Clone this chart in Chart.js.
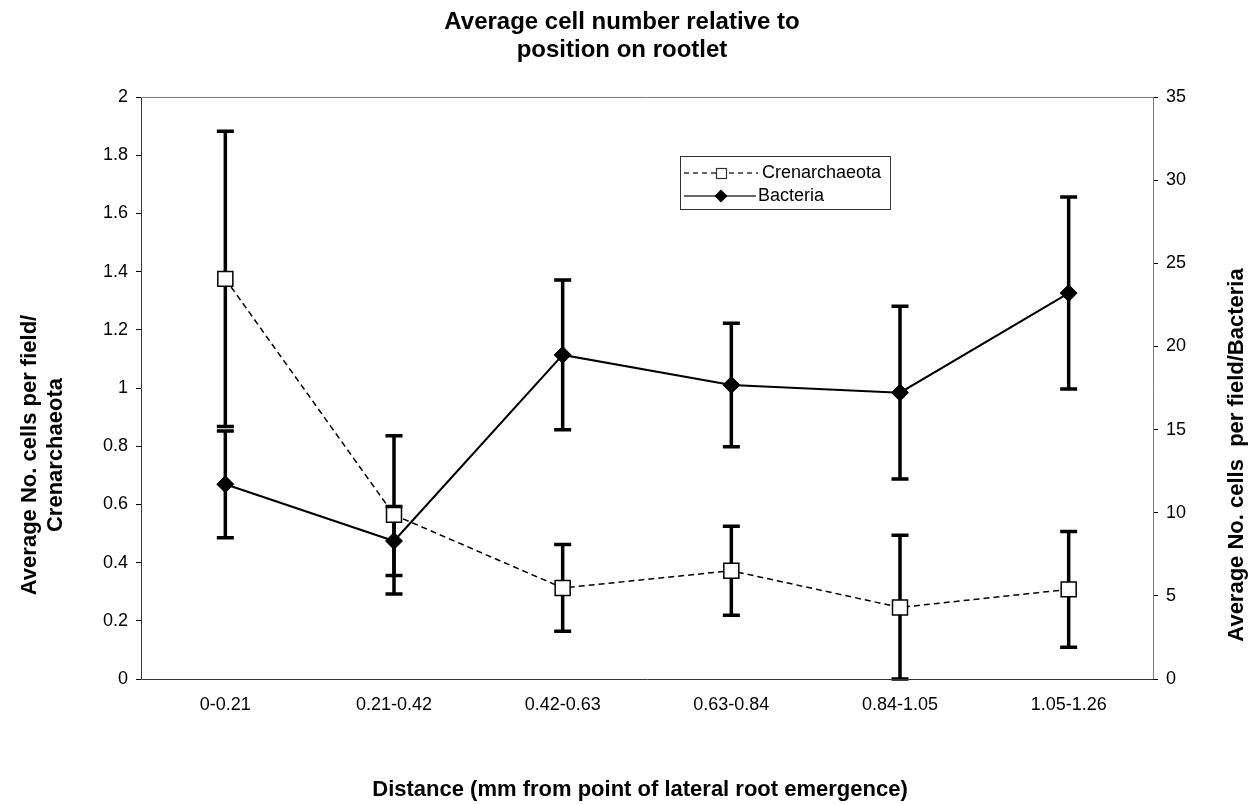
<!DOCTYPE html>
<html><head><meta charset="utf-8">
<script src="https://cdn.jsdelivr.net/npm/chart.js@4.4.0/dist/chart.umd.min.js"></script>
<style>html,body{margin:0;padding:0;background:#fff;overflow:hidden}#wrap{width:1257px;height:804px;position:relative}</style>
</head><body><div id="wrap"><canvas id="c" width="1257" height="804"></canvas></div>
<script>
const categories = ['0-0.21','0.21-0.42','0.42-0.63','0.63-0.84','0.84-1.05','1.05-1.26'];
const crenMean = [1.375, 0.564, 0.313, 0.372, 0.246, 0.308];
const crenErr  = [0.507, 0.272, 0.149, 0.153, 0.248, 0.199];
const bactMean = [11.71, 8.30, 19.49, 17.68, 17.22, 23.21];
const bactErr  = [3.21, 2.08, 4.50, 3.71, 5.20, 5.77];
const leftTicks  = ['0','0.2','0.4','0.6','0.8','1','1.2','1.4','1.6','1.8','2'];
const rightTicks = ['0','5','10','15','20','25','30','35'];
const titleLines = ['Average cell number relative to','position on rootlet'];
const xTitle = 'Distance (mm from point of lateral root emergence)';
const yLeftTitle = ['Average No. cells per field/','Crenarchaeota'];
const yRightTitle = 'Average No. cells  per field/Bacteria';
const seriesNames = ['Crenarchaeota','Bacteria'];

const FONT = '"Liberation Sans", Arial, Helvetica, sans-serif';

const errorBars = {
  id: 'errorBars',
  beforeDatasetsDraw(chart) {
    const ctx = chart.ctx, xs = chart.scales.x;
    const sets = [{m: crenMean, e: crenErr, a: 'y'}, {m: bactMean, e: bactErr, a: 'y1'}];
    ctx.save();
    ctx.strokeStyle = '#000'; ctx.lineWidth = 3.5; ctx.lineCap = 'butt';
    sets.forEach(s => {
      const ys = chart.scales[s.a];
      s.m.forEach((m, i) => {
        const px = xs.getPixelForValue(i);
        const hi = ys.getPixelForValue(m + s.e[i]);
        const lo = ys.getPixelForValue(Math.max(0, m - s.e[i]));
        ctx.beginPath();
        ctx.moveTo(px, hi); ctx.lineTo(px, lo);
        ctx.moveTo(px - 8.5, hi); ctx.lineTo(px + 8.5, hi);
        ctx.moveTo(px - 8.5, lo); ctx.lineTo(px + 8.5, lo);
        ctx.stroke();
      });
    });
    ctx.restore();
  }
};

const decor = {
  id: 'decor',
  beforeDatasetsDraw(chart) {
    const ctx = chart.ctx, a = chart.chartArea;
    const l = Math.round(a.left) + 0.5, t = Math.round(a.top) + 0.5, r = Math.round(a.right) + 0.5, b = Math.round(a.bottom) + 0.5;
    ctx.save();
    ctx.lineWidth = 1;
    ctx.strokeStyle = '#777';
    ctx.beginPath(); ctx.moveTo(l, t); ctx.lineTo(r, t); ctx.lineTo(r, b); ctx.stroke();
    ctx.strokeStyle = '#333';
    ctx.beginPath(); ctx.moveTo(l, t); ctx.lineTo(l, b); ctx.lineTo(r, b); ctx.stroke();
    ctx.restore();
  },
  afterDraw(chart) {
    const ctx = chart.ctx;
    ctx.save();
    ctx.fillStyle = '#000';
    ctx.textAlign = 'center'; ctx.textBaseline = 'middle';
    ctx.font = 'bold 24px ' + FONT;
    ctx.fillText(titleLines[0], 622, 22);
    ctx.fillText(titleLines[1], 622, 50);
    ctx.font = 'bold 22px ' + FONT;
    ctx.fillText(xTitle, 640, 790);
    const cy = 455;
    ctx.save(); ctx.translate(30, cy); ctx.rotate(-Math.PI / 2);
    ctx.fillText(yLeftTitle[0], 0, 0);
    ctx.fillText(yLeftTitle[1], 0, 26);
    ctx.restore();
    ctx.save(); ctx.translate(1237, cy); ctx.rotate(-Math.PI / 2);
    ctx.fillText(yRightTitle, 0, 0);
    ctx.restore();

    // legend
    ctx.strokeStyle = '#333'; ctx.lineWidth = 1;
    ctx.strokeRect(680.5, 156.5, 210, 53);
    ctx.font = '18px ' + FONT; ctx.textAlign = 'left';
    // row 1
    ctx.setLineDash([5, 4]); ctx.lineWidth = 1.4;
    ctx.beginPath(); ctx.moveTo(684, 173); ctx.lineTo(758, 173); ctx.stroke();
    ctx.setLineDash([]);
    ctx.fillStyle = '#fff'; ctx.fillRect(716, 168, 10, 10);
    ctx.lineWidth = 1.2; ctx.strokeRect(716.5, 168.5, 10, 10);
    ctx.fillStyle = '#000';
    ctx.fillText(seriesNames[0], 762, 173);
    // row 2
    ctx.lineWidth = 1.6;
    ctx.beginPath(); ctx.moveTo(684, 196); ctx.lineTo(756, 196); ctx.stroke();
    ctx.beginPath(); ctx.moveTo(721, 189.5); ctx.lineTo(727.5, 196); ctx.lineTo(721, 202.5); ctx.lineTo(714.5, 196); ctx.closePath(); ctx.fill();
    ctx.fillText(seriesNames[1], 758, 196);
    ctx.restore();
  }
};

new Chart(document.getElementById('c'), {
  type: 'line',
  data: {
    labels: categories,
    datasets: [
      {
        label: seriesNames[0], data: crenMean, yAxisID: 'y',
        borderColor: '#000', borderWidth: 1.5, borderDash: [6, 4],
        pointStyle: 'rect', pointRadius: 10.6, pointBackgroundColor: '#fff',
        pointBorderColor: '#000', pointBorderWidth: 1.5, tension: 0, fill: false
      },
      {
        label: seriesNames[1], data: bactMean, yAxisID: 'y1',
        borderColor: '#000', borderWidth: 2,
        pointStyle: 'rectRot', pointRadius: 8.5, pointBackgroundColor: '#000',
        pointBorderColor: '#000', pointBorderWidth: 1, tension: 0, fill: false
      }
    ]
  },
  options: {
    responsive: false, animation: false, devicePixelRatio: 1,
    layout: { padding: { top: 97, left: 0, right: 0, bottom: 0 } },
    plugins: { legend: { display: false }, title: { display: false }, tooltip: { enabled: false } },
    scales: {
      x: {
        type: 'category', offset: true,
        grid: { display: false, drawTicks: false }, border: { display: false },
        ticks: { color: '#000', font: { family: FONT, size: 18 }, padding: 15, maxRotation: 0 },
        afterFit(s) { s.height = 125; }
      },
      y: {
        position: 'left', min: 0, max: 2,
        grid: { display: true, drawOnChartArea: false, drawTicks: true, tickLength: 5, color: '#000' },
        border: { display: false },
        ticks: { stepSize: 0.2, color: '#000', font: { family: FONT, size: 18 }, padding: 8,
          callback: (v, i) => leftTicks[i] },
        afterFit(s) { s.width = 141; }
      },
      y1: {
        position: 'right', min: 0, max: 35,
        grid: { display: true, drawOnChartArea: false, drawTicks: true, tickLength: 5, color: '#000' },
        border: { display: false },
        ticks: { stepSize: 5, color: '#000', font: { family: FONT, size: 18 }, padding: 8,
          callback: (v, i) => rightTicks[i] },
        afterFit(s) { s.width = 104; }
      }
    }
  },
  plugins: [errorBars, decor]
});
</script>
</body></html>
